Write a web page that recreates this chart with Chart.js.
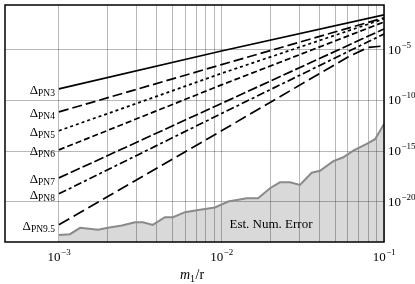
<!DOCTYPE html>
<html>
<head>
<meta charset="utf-8">
<script src="https://cdn.jsdelivr.net/npm/chart.js@4.4.0/dist/chart.umd.min.js"></script>
<style>
  html, body { margin: 0; padding: 0; background: #fff; }
</style>
</head>
<body>
<canvas id="pn-chart" width="415" height="284"></canvas>
<script>
// Axis ticks (m1/r, log scale) and labelled decades
const X_GRID = [1e-3, 2e-3, 3e-3, 4e-3, 5e-3, 6e-3, 7e-3, 8e-3, 9e-3,
                1e-2, 2e-2, 3e-2, 4e-2, 5e-2, 6e-2, 7e-2, 8e-2, 9e-2, 1e-1];
const X_DECADES = [1e-3, 1e-2, 1e-1];
const X_EXPONENTS = ['\u22123', '\u22122', '\u22121'];
const Y_TICKS = [1e-5, 1e-10, 1e-15, 1e-20];
const Y_EXPONENTS = ['\u22125', '\u221210', '\u221215', '\u221220'];

// PN truncation differences
const PN_X = [1e-3, 1e-2, 1e-1];
const PN3 = [1.4e-9, 7.9e-6, 2.9e-2];
const PN4 = [7.4e-12, 3.5e-7, 1.5e-2];
const PN5 = [1.0e-13, 4.8e-8, 1.2e-2];
const PN6 = [1.3e-15, 3.5e-9, 5.9e-3];
const PN7 = [2.2e-18, 5.1e-11, 1.2e-3];
const PN8 = [5.8e-20, 5.1e-12, 3.8e-4];
const PN95_X = [1e-3, 1e-2, 6e-2, 8e-2, 1e-1];
const PN95 = [5.0e-23, 1.0e-13, 2.0e-6, 1.8e-5, 2.5e-5];

// Estimated numerical error (grey area)
const ERR_X = [1.0e-3, 1.17e-3, 1.35e-3, 1.74e-3, 2.0e-3, 2.44e-3, 2.94e-3, 3.29e-3,
               3.78e-3, 4.49e-3, 5.04e-3, 5.96e-3, 7.06e-3, 9.12e-3, 1.10e-2, 1.43e-2,
               1.68e-2, 1.99e-2, 2.29e-2, 2.64e-2, 3.04e-2, 3.59e-2, 4.04e-2, 4.88e-2,
               5.62e-2, 6.47e-2, 7.83e-2, 8.81e-2, 1.0e-1];
const ERR = [5.0e-24, 5.9e-24, 2.5e-23, 1.6e-23, 2.6e-23, 4.2e-23, 9.1e-23, 9.1e-23,
             4.9e-23, 2.8e-22, 2.8e-22, 8.9e-22, 1.4e-21, 2.6e-21, 1.0e-20, 2.1e-20,
             2.1e-20, 2.1e-19, 8.1e-19, 8.1e-19, 4.5e-19, 7.2e-18, 1.1e-17, 1.0e-16,
             2.4e-16, 1.1e-15, 5.0e-15, 1.5e-14, 4.8e-13];

const SERIF = '"Liberation Serif", "DejaVu Serif", serif';

function toPoints(xs, ys) {
    return xs.map((x, i) => ({ x: x, y: ys[i] }));
}

function pnLine(name, xs, ys, dash) {
    return {
        label: name,
        data: toPoints(xs, ys),
        borderColor: '#000',
        borderWidth: 1.7,
        borderDash: dash,
        pointRadius: 0,
        fill: false,
        tension: 0
    };
}

// draws "10" with a raised exponent, centred on cx (or left-aligned at cx)
function drawPower(ctx, cx, baseline, exp, centred) {
    ctx.font = '13px ' + SERIF;
    const wBase = ctx.measureText('10').width;
    ctx.font = '9px ' + SERIF;
    const wExp = ctx.measureText(exp).width;
    let left = centred ? cx - (wBase + wExp) / 2 : cx;
    ctx.font = '13px ' + SERIF;
    ctx.fillText('10', left, baseline);
    ctx.font = '9px ' + SERIF;
    ctx.fillText(exp, left + wBase + 0.5, baseline - 6);
}

const annotations = {
    id: 'annotations',
    afterDraw(chart) {
        const { ctx, chartArea, scales: { x, y } } = chart;
        ctx.save();
        ctx.fillStyle = '#000';
        ctx.textAlign = 'left';
        ctx.textBaseline = 'alphabetic';

        // frame
        ctx.strokeStyle = '#000';
        ctx.lineWidth = 1.5;
        ctx.strokeRect(chartArea.left, chartArea.top,
            chartArea.right - chartArea.left, chartArea.bottom - chartArea.top);

        // x tick labels
        X_DECADES.forEach((v, i) => {
            drawPower(ctx, x.getPixelForValue(v), chartArea.bottom + 19, X_EXPONENTS[i], true);
        });
        // y tick labels on the right
        Y_TICKS.forEach((v, i) => {
            drawPower(ctx, chartArea.right + 4, y.getPixelForValue(v) + 4, Y_EXPONENTS[i], false);
        });

        // x axis title m1/r
        let tx = 180, ty = chartArea.bottom + 37;
        ctx.font = 'italic 14px ' + SERIF;
        ctx.fillText('m', tx, ty);
        tx += ctx.measureText('m').width;
        ctx.font = '10px ' + SERIF;
        ctx.fillText('1', tx, ty + 3);
        tx += ctx.measureText('1').width + 0.5;
        ctx.font = '14px ' + SERIF;
        ctx.fillText('/r', tx, ty);

        // Delta labels at the start of each PN curve
        chart.data.datasets.forEach(ds => {
            if (!ds.label.startsWith('PN')) return;
            const p = ds.data[0];
            const px = x.getPixelForValue(p.x) - 4;
            const py = y.getPixelForValue(p.y);
            ctx.font = '9.5px ' + SERIF;
            const wSub = ctx.measureText(ds.label).width;
            ctx.font = '13px ' + SERIF;
            const wD = ctx.measureText('\u0394').width;
            ctx.fillText('\u0394', px - wSub - wD, py + 5);
            ctx.font = '9.5px ' + SERIF;
            ctx.fillText(ds.label, px - wSub, py + 7);
        });

        // label inside the grey area
        ctx.font = '13px ' + SERIF;
        ctx.fillText('Est. Num. Error', x.getPixelForValue(1.12e-2), y.getPixelForValue(2.5e-23));
        ctx.restore();
    }
};

new Chart(document.getElementById('pn-chart'), {
    type: 'line',
    data: {
        datasets: [
            pnLine('PN3', PN_X, PN3, []),
            pnLine('PN4', PN_X, PN4, [10, 4]),
            pnLine('PN5', PN_X, PN5, [3, 3]),
            pnLine('PN6', PN_X, PN6, [6, 3]),
            pnLine('PN7', PN_X, PN7, [10, 3]),
            pnLine('PN8', PN_X, PN8, [8, 3, 3, 3]),
            pnLine('PN9.5', PN95_X, PN95, [12, 5]),
            {
                label: 'error',
                data: toPoints(ERR_X, ERR),
                borderColor: '#8a8a8a',
                borderWidth: 2,
                backgroundColor: 'rgba(0, 0, 0, 0.15)',
                pointRadius: 0,
                fill: 'start',
                tension: 0
            }
        ]
    },
    options: {
        responsive: false,
        animation: false,
        layout: { padding: { left: 5, top: 5, right: 0, bottom: 0 } },
        plugins: {
            legend: { display: false },
            tooltip: { enabled: false }
        },
        scales: {
            x: {
                type: 'logarithmic',
                min: 4.66e-4,
                max: 0.1,
                afterBuildTicks: (axis) => { axis.ticks = X_GRID.map(v => ({ value: v })); },
                afterFit: (axis) => { axis.height = 42; },
                ticks: { display: false },
                grid: { color: 'rgba(0, 0, 0, 0.28)', lineWidth: 1, drawTicks: false },
                border: { display: false }
            },
            y: {
                type: 'logarithmic',
                position: 'right',
                min: 1e-24,
                max: 0.28,
                afterBuildTicks: (axis) => { axis.ticks = Y_TICKS.map(v => ({ value: v })); },
                afterFit: (axis) => { axis.width = 31; },
                ticks: { display: false },
                grid: { color: 'rgba(0, 0, 0, 0.28)', lineWidth: 1, drawTicks: false },
                border: { display: false }
            }
        }
    },
    plugins: [annotations]
});
</script>
</body>
</html>
